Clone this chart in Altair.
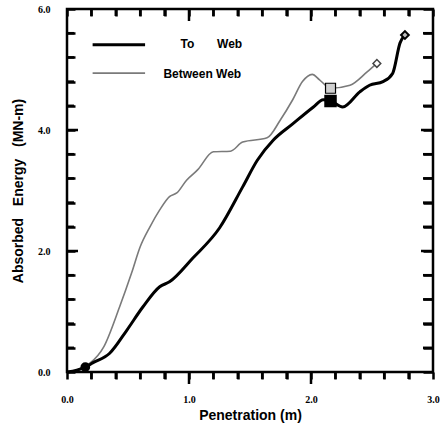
import altair as alt
import pandas as pd

# ---- data ----
between_x = [0, 0.08, 0.15, 0.19, 0.3, 0.43, 0.53, 0.6, 0.68, 0.76, 0.84, 0.9, 0.98, 1.07, 1.2, 1.34,
             1.44, 1.64, 1.75, 1.85, 1.93, 2.01, 2.07, 2.16, 2.32, 2.46, 2.54]
between_y = [0, 0.03, 0.1, 0.15, 0.41, 1.07, 1.64, 2.07, 2.4, 2.68, 2.9, 2.96, 3.17, 3.34, 3.64, 3.65,
             3.8, 3.87, 4.17, 4.5, 4.8, 4.92, 4.83, 4.69, 4.74, 4.96, 5.1]
to_x = [0, 0.08, 0.15, 0.21, 0.35, 0.49, 0.62, 0.76, 0.84, 1.03, 1.25, 1.44, 1.56, 1.69, 1.85, 2.02,
        2.1, 2.16, 2.26, 2.4, 2.48, 2.59, 2.67, 2.73, 2.77]
to_y = [0, 0.03, 0.08, 0.15, 0.31, 0.69, 1.07, 1.41, 1.49, 1.88, 2.38, 3.06, 3.5, 3.83, 4.1, 4.38,
        4.5, 4.48, 4.38, 4.63, 4.74, 4.8, 4.94, 5.44, 5.57]

x_tick_values = [0.0, 0.2, 0.4, 0.6, 0.8, 1.0, 1.2, 1.4, 1.6, 1.8, 2.0, 2.2, 2.4, 2.6, 2.8, 3.0]
y_tick_values = [0.0, 0.4, 0.8, 1.2, 1.6, 2.0, 2.4, 2.8, 3.2, 3.6, 4.0, 4.4, 4.8, 5.2, 5.6, 6.0]

legend_labels = ["To", "Web", "Between Web"]
legend_label_x = [0.93, 1.23, 0.79]
legend_label_y = [5.42, 5.42, 4.93]
legend_line_x = [0.21, 0.64]
legend_line_y = [5.41, 4.94]

W, H = 366, 363
XD, YD = [0, 3], [0, 6]
px_x = (XD[1] - XD[0]) / W
px_y = (YD[1] - YD[0]) / H
xs = alt.Scale(domain=XD, nice=False, zero=False)
ys = alt.Scale(domain=YD, nice=False, zero=False)

font = "Liberation Sans Narrow"
tfont = "Liberation Sans"
sp = "\u00a0\u00a0\u00a0"

between = pd.DataFrame({"x": between_x, "y": between_y})
to = pd.DataFrame({"x": to_x, "y": to_y})

# tick marks as thin rectangles, built from the tick value lists
half_w_x = 1.25 * px_x
half_w_y = 1.25 * px_y
trows = []
for v in x_tick_values[1:-1]:
    major = abs(v - round(v)) < 1e-9
    L = (12 if major else 7) * px_y
    trows.append({"a": v - half_w_x, "a2": v + half_w_x, "b": 0.0, "b2": -L})      # bottom, outward
    trows.append({"a": v - half_w_x, "a2": v + half_w_x, "b": 6.0, "b2": 6.0 - L})  # top, inward
for v in y_tick_values[1:-1]:
    major = abs(v / 2 - round(v / 2)) < 1e-9
    trows.append({"a": 0.0, "a2": (11 if major else 7) * px_x, "b": v - half_w_y, "b2": v + half_w_y})
    trows.append({"a": 3.0, "a2": 3.0 - (12 if major else 10) * px_x, "b": v - half_w_y, "b2": v + half_w_y})
ticks = pd.DataFrame(trows)


def X():
    return alt.X("x:Q", scale=xs, axis=None)


def Y():
    return alt.Y("y:Q", scale=ys, axis=None)


axis_bottom = alt.Axis(orient="bottom", values=x_tick_values, tickSize=7, tickWidth=2.5, tickColor="black",
                       domain=False, grid=False, labelFlush=False, labelOverlap=False, labelBound=False,
                       labelExpr="datum.value % 1 === 0 ? format(datum.value, '.1f') : ''",
                       labelFont=font, labelFontSize=10, labelFontWeight="bold", labelPadding=15,
                       labelColor="black", titleFont=tfont, titleFontSize=14, titleFontWeight="bold",
                       titlePadding=4, titleColor="black")
axis_left = alt.Axis(orient="left", values=y_tick_values, offset=-8, tickSize=8, tickWidth=2.5,
                     tickColor="black", domain=False, grid=False, labelFlush=False, labelOverlap=False,
                     labelBound=False,
                     labelExpr="datum.value % 2 === 0 ? format(datum.value, '.1f') : ''",
                     labelFont=font, labelFontSize=10, labelFontWeight="bold", labelPadding=17,
                     labelColor="black", titleFont=tfont, titleFontSize=14, titleFontWeight="bold",
                     titlePadding=12, titleColor="black")
axis_top = alt.Axis(orient="top", values=x_tick_values, offset=-7, tickSize=7, tickWidth=2.5,
                    tickColor="black", domain=False, grid=False, labels=False, title=None)
axis_right = alt.Axis(orient="right", values=y_tick_values, offset=-10, tickSize=10, tickWidth=2.5,
                      tickColor="black", domain=False, grid=False, labels=False, title=None)

between_line = alt.Chart(between).mark_line(color="#7a7a7a", strokeWidth=1.6, interpolate="monotone").encode(
    x=alt.X("x:Q", scale=xs, title="Penetration (m)", axis=axis_bottom),
    y=alt.Y("y:Q", scale=ys, title=f"Absorbed{sp}Energy{sp}(MN-m)", axis=axis_left))
to_line = alt.Chart(to).mark_line(color="black", strokeWidth=3, interpolate="monotone").encode(
    x=alt.X("x:Q", scale=xs, axis=axis_top),
    y=alt.Y("y:Q", scale=ys, axis=axis_right))

tick_layer = alt.Chart(ticks).mark_rect(color="black", clip=False).encode(
    x=alt.X("a:Q", scale=xs, axis=None), x2="a2:Q",
    y=alt.Y("b:Q", scale=ys, axis=None), y2="b2:Q")

mk_gray_sq = alt.Chart(pd.DataFrame({"x": [between_x[23]], "y": [between_y[23]]})).mark_point(
    shape="square", size=100, filled=True, fill="#d0d0d0", stroke="black", strokeWidth=1.2, opacity=1).encode(
    x=X(), y=Y())
mk_black_sq = alt.Chart(pd.DataFrame({"x": [to_x[17]], "y": [to_y[17]]})).mark_point(
    shape="square", size=110, filled=True, fill="black", stroke="black", opacity=1).encode(x=X(), y=Y())
mk_gray_end = alt.Chart(pd.DataFrame({"x": [between_x[-1]], "y": [between_y[-1]]})).mark_point(
    shape="diamond", size=60, filled=True, fill="white", stroke="#444", strokeWidth=1.5, opacity=1).encode(
    x=X(), y=Y())
mk_black_end = alt.Chart(pd.DataFrame({"x": [to_x[-1]], "y": [to_y[-1]]})).mark_point(
    shape="diamond", size=60, filled=True, fill="#bbb", stroke="black", strokeWidth=2, opacity=1).encode(
    x=X(), y=Y())
mk_origin = alt.Chart(pd.DataFrame({"x": [to_x[2]], "y": [to_y[2]]})).mark_point(
    shape="circle", size=60, filled=True, fill="black", stroke="black", opacity=1).encode(x=X(), y=Y())

leg_lines = pd.DataFrame({"x": [legend_line_x[0]] * 2, "x2": [legend_line_x[1]] * 2, "y": legend_line_y})
leg_black = alt.Chart(leg_lines.iloc[[0]]).mark_rule(color="black", strokeWidth=3).encode(
    x=X(), x2="x2:Q", y=Y())
leg_gray = alt.Chart(leg_lines.iloc[[1]]).mark_rule(color="#7a7a7a", strokeWidth=1.6).encode(
    x=X(), x2="x2:Q", y=Y())
leg_text = alt.Chart(pd.DataFrame({"t": legend_labels, "x": legend_label_x, "y": legend_label_y})).mark_text(
    align="left", baseline="middle", font=tfont, fontSize=12, fontWeight="bold", color="black").encode(
    x=X(), y=Y(), text="t:N")

chart = alt.layer(
    between_line, to_line, tick_layer, mk_gray_sq, mk_black_sq, mk_gray_end, mk_black_end,
    mk_origin, leg_black, leg_gray, leg_text
).resolve_axis(x="independent", y="independent").properties(
    width=W, height=H,
    autosize=alt.AutoSizeParams(type="none"),
    padding={"left": 67, "top": 9, "right": 7, "bottom": 57},
).configure_view(stroke="black", strokeWidth=2.5)

chart.save("out.html", embed_options={"renderer": "svg", "actions": False})
